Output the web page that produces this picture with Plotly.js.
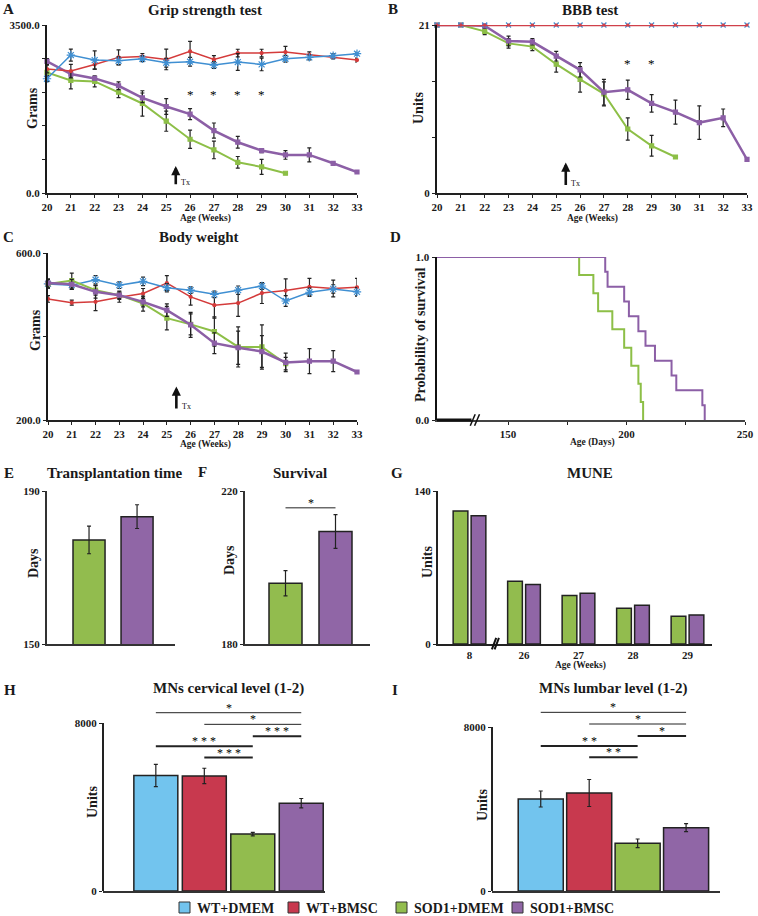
<!DOCTYPE html>
<html><head><meta charset="utf-8">
<script src="https://cdn.plot.ly/plotly-3.0.1.min.js"></script>
<style>html,body{margin:0;padding:0;background:#fff}#chart{width:758px;height:916px}</style>
</head><body><div id="chart"></div>
<script>
// ---------------- DATA ----------------
const weeks = [20,21,22,23,24,25,26,27,28,29,30,31,32,33];
const weeksSodDmem = [20,21,22,23,24,25,26,27,28,29,30];
const weekTickText = ['20','21','22','23','24','25','26','27','28','29','30','31','32','33'];

// A: Grip strength (grams)
const gripWtDmem    = [2380,2874,2769,2755,2797,2714,2735,2665,2728,2679,2797,2825,2860,2902];
const gripWtDmemErr = [60,125,190,80,60,90,90,70,174,132,70,50,40,30];
const gripWtBmsc    = [2581,2540,2679,2825,2846,2783,2950,2783,2915,2915,2936,2880,2832,2769];
const gripWtBmscErr = [80,140,100,157,60,215,210,80,80,80,120,60,40,40];
const gripSodDmem    = [2512,2345,2324,2101,1865,1496,1120,898,640,543,411];
const gripSodDmemErr = [70,174,115,115,265,210,190,184,120,157,0];
const gripSodBmsc    = [2741,2477,2387,2234,1983,1802,1642,1301,1058,884,793,793,619,438];
const gripSodBmscErr = [60,60,40,80,100,163,115,157,122,42,90,146,0,0];
const gripStarWeeks = [26,27,28,29];
const gripStarLevel = [2060,2060,2060,2060];

// B: BBB test (units)
const bbbWtDmem = [21,21,21,21,21,21,21,21,21,21,21,21,21,21];
const bbbWtBmsc = [21,21,21,21,21,21,21,21,21,21,21,21,21,21];
const bbbSodDmem    = [21,21,20.2,18.7,18.3,16.1,14.2,12.4,8.0,5.9,4.5];
const bbbSodDmemErr = [0,0,0.4,0.6,0.5,1.0,1.6,1.5,1.4,1.3,0];
const bbbSodBmsc    = [21,21,20.9,19.0,18.9,17.1,15.4,12.6,12.9,11.2,10.1,8.8,9.4,4.2];
const bbbSodBmscErr = [0,0,0.3,0.6,0.4,0.6,0.9,1.6,1.2,1.1,1.5,2.1,1.1,0];
const bbbStarWeeks = [28,29];
const bbbStarLevel = [16.2,16.2];

// C: Body weight (grams)
const bwWtDmem    = [526,523,536,523,532,517,511,501,511,521,485,506,514,507];
const bwWtDmemErr = [10,10,10,8,10,10,8,8,10,8,13,10,10,10];
const bwWtBmsc    = [490,481,483,494,503,528,495,475,480,504,510,519,515,518];
const bwWtBmscErr = [8,6,21,12,12,18,20,31,32,25,28,20,20,21];
const bwSodDmem    = [526,534,511,499,479,444,429,412,375,375,335];
const bwSodDmemErr = [10,18,12,10,18,28,25,35,48,53,15];
const bwSodBmsc    = [528,525,507,499,483,463,428,384,373,364,338,341,341,315];
const bwSodBmscErr = [10,12,15,8,12,15,30,25,40,38,22,30,25,0];

// D: Kaplan-Meier survival
const kmDmemDays = [120,180,186,188,194,199,202,205,206,207];
const kmDmemProb = [1,0.889,0.778,0.667,0.556,0.444,0.333,0.222,0.111,0];
const kmBmscDays = [120,191,192,199,201,205,208,212,219,221,232,233];
const kmBmscProb = [1,0.909,0.818,0.727,0.636,0.545,0.455,0.364,0.273,0.182,0.091,0];

// E, F
const sodGroups = ['SOD1+DMEM','SOD1+BMSC'];
const transTime = [177.2,183.3];
const transTimeErr = [3.6,3.1];
const survivalDays = [195.9,209.4];
const survivalDaysErr = [3.3,4.4];

// G: MUNE
const muneWeeks = ['8','26','27','28','29'];
const muneDmem = [121.7,57.5,44.3,32.7,25.4];
const muneBmsc = [117.4,54.4,46.5,35.5,26.6];

// H, I: motor neurons
const groups = ['WT+DMEM','WT+BMSC','SOD1+DMEM','SOD1+BMSC'];
const mnCervical    = [5497,5481,2709,4182];
const mnCervicalErr = [531,364,87,222];
const mnLumbar      = [4488,4780,2325,3089];
const mnLumbarErr   = [390,659,211,195];
// significance brackets: [fromGroup, toGroup, level, label, thick]
const sigCervical = [[0,3,8490,'*',false],[1,3,7936,'*',false],[2,3,7366,'* * *',true],[0,2,6890,'* * *',true],[1,2,6352,'* * *',true]];
const sigLumbar   = [[0,3,8715,'*',false],[1,3,8146,'*',false],[2,3,7561,'*',true],[0,2,7073,'* *',true],[1,2,6520,'* *',true]];
const sigSurvival = [[0,1,215.6,'*',false]];

// ---------------- STYLE ----------------
const W = 758, H = 916;
const FONT = '"Liberation Serif", "Times New Roman", serif';
const C_BLUE = '#3f8fd2', C_RED = '#d43b3b', C_GREEN = '#8dbf47', C_PURPLE = '#8c5fa6';
const B_BLUE = '#72c4ee', B_RED = '#c8394e', B_GREEN = '#92bc4e', B_PURPLE = '#9066a6';
const groupBarColors = [B_BLUE,B_RED,B_GREEN,B_PURPLE];
const px = x => x / W;
const py = y => 1 - y / H;
const tf = (s) => ({family: FONT, size: s, color: '#1a1a1a', weight: 'bold'});

function xAx(l, r, range, anchor, extra) {
  return Object.assign({domain:[px(l),px(r)], range:range, anchor:anchor, showgrid:false, zeroline:false,
    showline:true, linecolor:'#222', linewidth:1.5, ticks:'outside', ticklen:3, tickwidth:1, tickcolor:'#222',
    tickfont:tf(11), fixedrange:true}, extra||{});
}
function yAx(top, bottom, range, anchor, extra) {
  return Object.assign({domain:[py(bottom),py(top)], range:range, anchor:anchor, showgrid:false, zeroline:false,
    showline:true, linecolor:'#1a1a1a', linewidth:2, ticks:'outside', ticklen:3, tickwidth:1, tickcolor:'#222',
    tickfont:tf(11), fixedrange:true}, extra||{});
}
const errSty = (arr) => ({type:'data', array:arr, visible:true, color:'#222', thickness:1.2, width:2});

function lineTrace(x, y, err, xa, ya, color, width, sym, size) {
  const t = {x:x, y:y, xaxis:xa, yaxis:ya, mode:'lines+markers', cliponaxis:false, showlegend:false,
    line:{color:color, width:width}, marker:{symbol:sym, size:size, color:color, line:{color:color, width:1.2}}, hoverinfo:'skip'};
  if (err) t.error_y = errSty(err);
  return t;
}

const data = [];
// A
data.push(lineTrace(weeksSodDmem, gripSodDmem, gripSodDmemErr, 'x','y', C_GREEN, 2, 'square', 4));
data.push(lineTrace(weeks, gripSodBmsc, gripSodBmscErr, 'x','y', C_PURPLE, 2.5, 'square', 4));
data.push(lineTrace(weeks, gripWtBmsc, gripWtBmscErr, 'x','y', C_RED, 1.5, 'circle', 3));
data.push(lineTrace(weeks, gripWtDmem, gripWtDmemErr, 'x','y', C_BLUE, 1.5, 'asterisk-open', 7));
// B
data.push(lineTrace(weeksSodDmem, bbbSodDmem, bbbSodDmemErr, 'x2','y2', C_GREEN, 2, 'square', 4));
data.push(lineTrace(weeks, bbbSodBmsc, bbbSodBmscErr, 'x2','y2', C_PURPLE, 2.5, 'square', 4));
data.push(lineTrace(weeks, bbbWtDmem, null, 'x2','y2', C_BLUE, 1.5, 'x-thin-open', 5));
data.push(lineTrace(weeks, bbbWtBmsc, null, 'x2','y2', '#d0404a', 2.5, 'circle', 2));
// C
data.push(lineTrace(weeks, bwWtBmsc, bwWtBmscErr, 'x3','y3', C_RED, 1.5, 'circle', 3));
data.push(lineTrace(weeks, bwWtDmem, bwWtDmemErr, 'x3','y3', C_BLUE, 1.5, 'asterisk-open', 7));
data.push(lineTrace(weeksSodDmem, bwSodDmem, bwSodDmemErr, 'x3','y3', C_GREEN, 2, 'square', 4));
data.push(lineTrace(weeks, bwSodBmsc, bwSodBmscErr, 'x3','y3', C_PURPLE, 2.5, 'square', 4));
// D
data.push({x:kmDmemDays, y:kmDmemProb, xaxis:'x4', yaxis:'y4', mode:'lines', line:{shape:'hv', color:C_GREEN, width:2}, cliponaxis:false, showlegend:false, hoverinfo:'skip'});
data.push({x:kmBmscDays, y:kmBmscProb, xaxis:'x4', yaxis:'y4', mode:'lines', line:{shape:'hv', color:C_PURPLE, width:2}, cliponaxis:false, showlegend:false, hoverinfo:'skip'});
// E
data.push({type:'bar', x:[0,1], y:transTime, xaxis:'x5', yaxis:'y5', width:0.667,
  marker:{color:[B_GREEN,B_PURPLE], line:{color:'#222', width:1.5}}, error_y:errSty(transTimeErr), showlegend:false, hoverinfo:'skip'});
// F
data.push({type:'bar', x:[0,1], y:survivalDays, xaxis:'x6', yaxis:'y6', width:0.66,
  marker:{color:[B_GREEN,B_PURPLE], line:{color:'#222', width:1.5}}, error_y:errSty(survivalDaysErr), showlegend:false, hoverinfo:'skip'});
// G
const gIdx = muneWeeks.map((w,i)=>i);
data.push({type:'bar', x:gIdx, y:muneDmem, xaxis:'x7', yaxis:'y7', width:0.27, offset:-0.30,
  marker:{color:B_GREEN, line:{color:'#222', width:1.5}}, showlegend:false, hoverinfo:'skip'});
data.push({type:'bar', x:gIdx, y:muneBmsc, xaxis:'x7', yaxis:'y7', width:0.27, offset:0.03,
  marker:{color:B_PURPLE, line:{color:'#222', width:1.5}}, showlegend:false, hoverinfo:'skip'});
// H, I
const hIdx = groups.map((g,i)=>i);
data.push({type:'bar', x:hIdx, y:mnCervical, xaxis:'x8', yaxis:'y8', width:0.907,
  marker:{color:groupBarColors, line:{color:'#222', width:1.5}}, error_y:errSty(mnCervicalErr), showlegend:false, hoverinfo:'skip'});
data.push({type:'bar', x:hIdx, y:mnLumbar, xaxis:'x9', yaxis:'y9', width:0.93,
  marker:{color:groupBarColors, line:{color:'#222', width:1.5}}, error_y:errSty(mnLumbarErr), showlegend:false, hoverinfo:'skip'});

// ---------------- LAYOUT ----------------
const noTickX = {ticks:'', showticklabels:false, linewidth:2, linecolor:'#333'};
const layout = {
  width:W, height:H, margin:{l:0,r:0,t:0,b:0}, paper_bgcolor:'#fff', plot_bgcolor:'rgba(0,0,0,0)',
  showlegend:false, barmode:'overlay', font:{family:FONT, color:'#1a1a1a'},
  // A
  xaxis: xAx(47,357,[20,33],'y',{tickvals:weeks, ticktext:weekTickText}),
  yaxis: yAx(25,193,[0,3500],'x',{tickvals:[0,700,1400,2100,2800,3500], ticktext:['0.0','','','','','3500.0']}),
  // B
  xaxis2: xAx(437,747,[20,33],'y2',{tickvals:weeks, ticktext:weekTickText}),
  yaxis2: yAx(25,193,[0,21],'x2',{tickvals:[0,7,14,21], ticktext:['0','','','21']}),
  // C
  xaxis3: xAx(48,357,[20,33],'y3',{tickvals:weeks, ticktext:weekTickText}),
  yaxis3: yAx(253,420,[200,600],'x3',{tickvals:[200,400,600], ticktext:['200.0','','600.0']}),
  // D
  xaxis4: xAx(437,745,[120,250],'y4',{tickvals:[150,175,200,225,250], ticktext:['150','','200','','250'], linecolor:'#444'}),
  yaxis4: yAx(257,420,[0,1],'x4',{tickvals:[0,1], ticktext:['0.0','1.0'], linewidth:2.5, linecolor:'#111'}),
  // E
  xaxis5: xAx(47,175,[-0.875,1.79],'y5',noTickX),
  yaxis5: yAx(491,644,[150,190],'x5',{tickvals:[150,190], linecolor:'#333'}),
  // F
  xaxis6: xAx(245,370,[-0.81,1.69],'y6',noTickX),
  yaxis6: yAx(491,644,[180,220],'x6',{tickvals:[180,220], linecolor:'#333'}),
  // G
  xaxis7: xAx(438,712,[-0.578,4.45],'y7',{tickvals:gIdx, ticktext:muneWeeks, ticks:'', linewidth:2, linecolor:'#222'}),
  yaxis7: yAx(491,644,[0,140],'x7',{tickvals:[0,140], linecolor:'#222'}),
  // H (range extended above 8000 for brackets; axis line drawn as shape up to 8000)
  xaxis8: xAx(103,325,[-1.09,3.49],'y8',noTickX),
  yaxis8: yAx(891-168*9000/8000,891,[0,9000],'x8',{tickvals:[0,8000], showline:false}),
  // I
  xaxis9: xAx(492,720,[-1.006,3.70],'y9',noTickX),
  yaxis9: yAx(891-164*9000/8000,891,[0,9000],'x9',{tickvals:[0,8000], showline:false}),
  shapes: [], annotations: []
};
const S = layout.shapes, A = layout.annotations;

function txt(text, x, y, size, extra) {
  A.push(Object.assign({text:text, x:px(x), y:py(y), xref:'paper', yref:'paper', showarrow:false,
    font:tf(size), xanchor:'center', yanchor:'middle'}, extra||{}));
}
// panel letters
txt('A',8,9,15); txt('B',393,9,15); txt('C',8,237,15); txt('D',395,237,15);
txt('E',9,473,15); txt('F',202,472,15); txt('G',397,473,15); txt('H',10,690,15); txt('I',395,690,15);
// titles
txt('Grip strength test',205,10,15); txt('BBB test',590,10,15); txt('Body weight',199,237,15);
txt('Transplantation time',114,473,15); txt('Survival',300,473,15); txt('MUNE',590,473,15);
txt('MNs cervical level (1-2)',228,688,15); txt('MNs lumbar level (1-2)',613,688,15);
// axis titles
txt('Grams',33,108,14,{textangle:-90}); txt('Units',419,108,14,{textangle:-90});
txt('Grams',35,330,14,{textangle:-90}); txt('Probability of survival',420,335,14,{textangle:-90});
txt('Days',33,563,14,{textangle:-90}); txt('Days',229,560,14,{textangle:-90});
txt('Units',427,562,14,{textangle:-90}); txt('Units',92,802,14,{textangle:-90}); txt('Units',482,805,14,{textangle:-90});
txt('Age (Weeks)',205,218,9.5); txt('Age (Weeks)',592,218,9.5); txt('Age (Weeks)',205,444,9.5);
txt('Age (Days)',592,443,9.5); txt('Age (Weeks)',580,665,9.5);

// asterisks
const starFont = {family:FONT, size:13, color:'#000'};
gripStarWeeks.forEach((w,i)=>A.push({text:'*', x:w, y:gripStarLevel[i], xref:'x', yref:'y', showarrow:false, font:starFont}));
bbbStarWeeks.forEach((w,i)=>A.push({text:'*', x:w, y:bbbStarLevel[i], xref:'x2', yref:'y2', showarrow:false, font:starFont}));

// Tx arrows
[['x','y',150,560,215],['x2','y2',0.8,3.8,1.2],['x3','y3',224,280,232]].forEach(a=>{
  A.push({text:'', x:25.4, y:a[3], ax:25.4, ay:a[2], xref:a[0], yref:a[1], axref:a[0], ayref:a[1],
    showarrow:true, arrowhead:2, arrowsize:0.7, arrowwidth:2.6, arrowcolor:'#111', standoff:0, startstandoff:0});
  A.push({text:'Tx', x:25.55, y:a[4], xref:a[0], yref:a[1], showarrow:false, xanchor:'left',
    font:{family:FONT, size:8, color:'#111'}});
});

// significance brackets
function addSig(list, xa, ya, fsize) {
  list.forEach(s=>{
    S.push({type:'line', xref:xa, yref:ya, x0:s[0], x1:s[1], y0:s[2], y1:s[2], line:{color:'#222', width:s[4]?2:1}});
    A.push({text:s[3], x:(s[0]+s[1])/2, y:s[2], xref:xa, yref:ya, showarrow:false, yanchor:'bottom', yshift:-4,
      font:{family:FONT, size:fsize, color:'#000'}});
  });
}
addSig(sigCervical,'x8','y8',12); addSig(sigLumbar,'x9','y9',12); addSig(sigSurvival,'x6','y6',12);

// H, I y-axis lines up to 8000
S.push({type:'line', xref:'x8 domain', yref:'y8', x0:0, x1:0, y0:0, y1:8000, line:{color:'#222', width:2}});
S.push({type:'line', xref:'x9 domain', yref:'y9', x0:0, x1:0, y0:0, y1:8000, line:{color:'#222', width:2}});

// D axis break
S.push({type:'line', xref:'x4 domain', yref:'y4 domain', x0:0, x1:0.112, y0:0, y1:0, line:{color:'#111', width:3}});
S.push({type:'line', xref:'x4 domain', yref:'y4 domain', x0:0.108, x1:0.124, y0:-0.035, y1:0.035, line:{color:'#111', width:1.5}});
S.push({type:'line', xref:'x4 domain', yref:'y4 domain', x0:0.122, x1:0.138, y0:-0.035, y1:0.035, line:{color:'#111', width:1.5}});
// G axis break
S.push({type:'line', xref:'x7', yref:'y7 domain', x0:0.41, x1:0.49, y0:-0.035, y1:0.04, line:{color:'#111', width:2}});
S.push({type:'line', xref:'x7', yref:'y7 domain', x0:0.46, x1:0.54, y0:-0.035, y1:0.04, line:{color:'#111', width:2}});

// legend
const legX = [179,288,396,512];
groups.forEach((g,i)=>{
  S.push({type:'rect', xref:'paper', yref:'paper', x0:px(legX[i]), x1:px(legX[i]+11), y0:py(913), y1:py(902),
    fillcolor:groupBarColors[i], line:{color:'#333', width:1}});
  txt(g, legX[i]+16, 908, 14, {xanchor:'left'});
});

Plotly.newPlot('chart', data, layout, {staticPlot:true, displayModeBar:false});
</script>
</body></html>
